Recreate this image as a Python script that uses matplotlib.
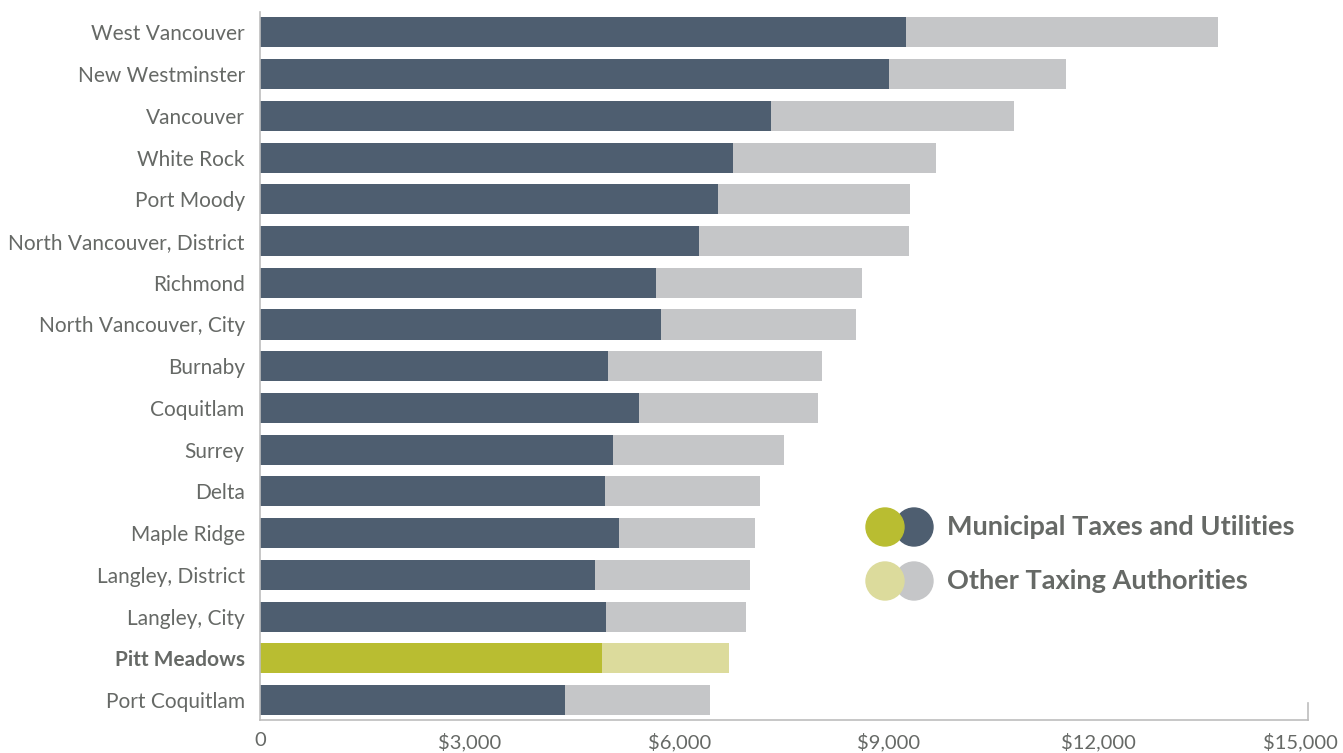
import numpy as np
import matplotlib.pyplot as plt
from matplotlib.patches import Ellipse

plt.rcParams['font.family'] = ['Lato', 'DejaVu Sans']

# Average residential property tax bill by municipality ($)
cities = ['West Vancouver', 'New Westminster', 'Vancouver', 'White Rock', 'Port Moody',
          'North Vancouver, District', 'Richmond', 'North Vancouver, City', 'Burnaby',
          'Coquitlam', 'Surrey', 'Delta', 'Maple Ridge', 'Langley, District',
          'Langley, City', 'Pitt Meadows', 'Port Coquitlam']
municipal = [9250, 9000, 7310, 6770, 6560, 6280, 5670, 5740, 4980,
             5420, 5050, 4940, 5140, 4790, 4950, 4890, 4370]
other = [4460, 2540, 3480, 2910, 2740, 3010, 2950, 2790, 3060,
         2570, 2450, 2220, 1940, 2220, 2010, 1820, 2070]
highlight = 'Pitt Meadows'

dark = '#4e5e70'
grey = '#c5c6c8'
olive = '#b9bd31'
olive_light = '#dcdb9c'
text_col = '#666966'
spine_col = '#bdbdbd'

W, H = 1343, 753
fig = plt.figure(figsize=(W / 100, H / 100), dpi=100)
ax = fig.add_axes([260 / W, 33 / H, 1048 / W, 708 / H])

y = np.arange(len(cities))
c1 = [olive if c == highlight else dark for c in cities]
c2 = [olive_light if c == highlight else grey for c in cities]
ax.barh(y, municipal, height=0.72, color=c1)
ax.barh(y, other, left=municipal, height=0.72, color=c2)

ax.set_xlim(0, 15000)
ax.set_ylim(16.48, -0.49)

for s in ['top', 'right']:
    ax.spines[s].set_visible(False)
for s in ['left', 'bottom']:
    ax.spines[s].set_color(spine_col)
    ax.spines[s].set_linewidth(1.2)
ax.axvline(15000, ymin=0, ymax=0.024, color=spine_col, lw=1.2, clip_on=False)

ax.set_xticks([0, 3000, 6000, 9000, 12000, 15000])
ax.set_xticklabels(['0', '$3,000', '$6,000', '$9,000', '$12,000', '$15,000'])
ax.set_yticks(y)
ax.set_yticklabels(cities)
ax.tick_params(axis='both', length=0, colors=text_col)
ax.tick_params(axis='y', pad=11, labelsize=15)
ax.tick_params(axis='x', pad=9, labelsize=14.5)
for lab in ax.get_yticklabels():
    if lab.get_text() == highlight:
        lab.set_fontweight('bold')
# keep the last tick label inside the figure
ax.get_xticklabels()[-1].set_horizontalalignment('right')
ax.get_xticklabels()[-1].set_x(15000)
last = ax.get_xticklabels()[-1]
last.set_transform(last.get_transform() + plt.matplotlib.transforms.ScaledTranslation(30 / 100, 0, fig.dpi_scale_trans))

# legend made of overlapping dots
legend_rows = [('Municipal Taxes and Utilities', olive, dark, 527),
               ('Other Taxing Authorities', olive_light, grey, 581)]
for label, front, back, py in legend_rows:
    yy = 1 - py / H
    for cx, col in [(914, back), (885, front)]:
        fig.patches.append(Ellipse((cx / W, yy), 38 / W, 38 / H, color=col,
                                   transform=fig.transFigure, figure=fig))
    fig.text(947 / W, yy, label, color=text_col, fontsize=19.5,
             fontweight='bold', va='center', ha='left')

fig.savefig('out.png', dpi=100)
